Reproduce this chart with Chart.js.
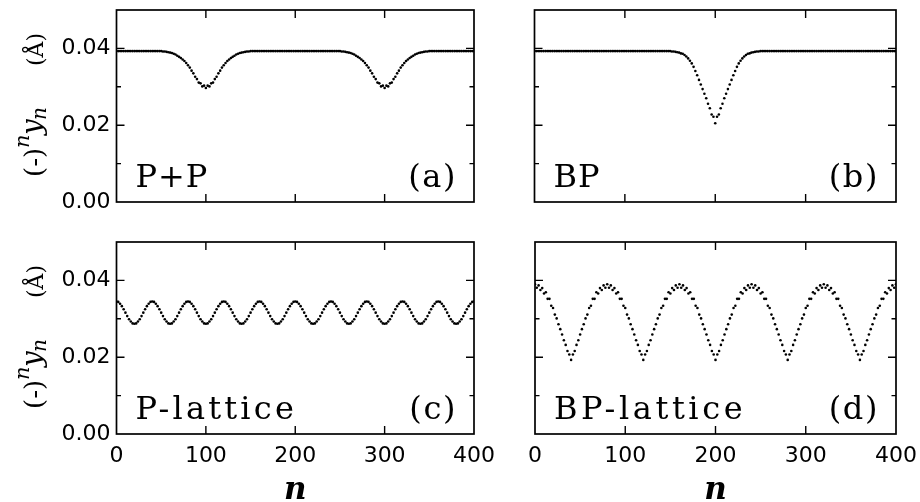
<!DOCTYPE html>
<html>
<head>
<meta charset="utf-8">
<script src="https://cdn.jsdelivr.net/npm/chart.js@4.4.0/dist/chart.umd.min.js"></script>
<style>
  html, body { margin: 0; padding: 0; background: #fff; }
  #wrap { position: relative; width: 920px; height: 502px; }
  #wrap canvas { position: absolute; left: 0; top: 0; }
</style>
</head>
<body>
<div id="wrap">
  <canvas id="pa" width="920" height="502"></canvas>
  <canvas id="pb" width="920" height="502"></canvas>
  <canvas id="pc" width="920" height="502"></canvas>
  <canvas id="pd" width="920" height="502"></canvas>
</div>
<script>
// site index n, sampled every 4 for each of the two sublattices
const nA = [0,4,8,12,16,20,24,28,32,36,40,44,48,52,56,60,64,68,72,76,80,84,88,92,96,100,104,108,112,116,120,124,128,132,136,140,144,148,152,156,160,164,168,172,176,180,184,188,192,196,200,204,208,212,216,220,224,228,232,236,240,244,248,252,256,260,264,268,272,276,280,284,288,292,296,300,304,308,312,316,320,324,328,332,336,340,344,348,352,356,360,364,368,372,376,380,384,388,392,396,400];
const nB = [2,6,10,14,18,22,26,30,34,38,42,46,50,54,58,62,66,70,74,78,82,86,90,94,98,102,106,110,114,118,122,126,130,134,138,142,146,150,154,158,162,166,170,174,178,182,186,190,194,198,202,206,210,214,218,222,226,230,234,238,242,246,250,254,258,262,266,270,274,278,282,286,290,294,298,302,306,310,314,318,322,326,330,334,338,342,346,350,354,358,362,366,370,374,378,382,386,390,394,398];

// (a) P+P
const aA = [
  0.0393,0.0393,0.0393,0.0393,0.0393,0.0393,0.0393,0.0393,0.0393,0.0393,
  0.0393,0.0393,0.0393,0.0392,0.0391,0.0389,0.0386,0.0381,0.0375,0.0367,
  0.0356,0.0342,0.0326,0.0311,0.0301,0.0297,0.0301,0.0311,0.0326,0.0342,
  0.0356,0.0367,0.0375,0.0381,0.0386,0.0389,0.0391,0.0392,0.0393,0.0393,
  0.0393,0.0393,0.0393,0.0393,0.0393,0.0393,0.0393,0.0393,0.0393,0.0393,
  0.0393,0.0393,0.0393,0.0393,0.0393,0.0393,0.0393,0.0393,0.0393,0.0393,
  0.0393,0.0393,0.0393,0.0392,0.0391,0.0389,0.0386,0.0381,0.0375,0.0367,
  0.0356,0.0342,0.0326,0.0311,0.0301,0.0297,0.0301,0.0311,0.0326,0.0342,
  0.0356,0.0367,0.0375,0.0381,0.0386,0.0389,0.0391,0.0392,0.0393,0.0393,
  0.0393,0.0393,0.0393,0.0393,0.0393,0.0393,0.0393,0.0393,0.0393,0.0393,
  0.0393
];
const aB = [
  0.0393,0.0393,0.0393,0.0393,0.0393,0.0393,0.0393,0.0393,0.0393,0.0393,
  0.0393,0.0393,0.0393,0.0392,0.0390,0.0388,0.0384,0.0378,0.0371,0.0362,
  0.0350,0.0335,0.0320,0.0309,0.0303,0.0303,0.0309,0.0320,0.0335,0.0350,
  0.0362,0.0371,0.0378,0.0384,0.0388,0.0390,0.0392,0.0393,0.0393,0.0393,
  0.0393,0.0393,0.0393,0.0393,0.0393,0.0393,0.0393,0.0393,0.0393,0.0393,
  0.0393,0.0393,0.0393,0.0393,0.0393,0.0393,0.0393,0.0393,0.0393,0.0393,
  0.0393,0.0393,0.0393,0.0392,0.0390,0.0388,0.0384,0.0378,0.0371,0.0362,
  0.0350,0.0335,0.0320,0.0309,0.0303,0.0303,0.0309,0.0320,0.0335,0.0350,
  0.0362,0.0371,0.0378,0.0384,0.0388,0.0390,0.0392,0.0393,0.0393,0.0393,
  0.0393,0.0393,0.0393,0.0393,0.0393,0.0393,0.0393,0.0393,0.0393,0.0393
];

// (b) BP
const bA = [
  0.0393,0.0393,0.0393,0.0393,0.0393,0.0393,0.0393,0.0393,0.0393,0.0393,
  0.0393,0.0393,0.0393,0.0393,0.0393,0.0393,0.0393,0.0393,0.0393,0.0393,
  0.0393,0.0393,0.0393,0.0393,0.0393,0.0393,0.0393,0.0393,0.0393,0.0393,
  0.0393,0.0393,0.0393,0.0393,0.0393,0.0393,0.0393,0.0393,0.0392,0.0391,
  0.0389,0.0386,0.0379,0.0368,0.0352,0.0330,0.0306,0.0282,0.0256,0.0228,
  0.0205,0.0228,0.0256,0.0282,0.0306,0.0330,0.0352,0.0368,0.0379,0.0386,
  0.0389,0.0391,0.0392,0.0393,0.0393,0.0393,0.0393,0.0393,0.0393,0.0393,
  0.0393,0.0393,0.0393,0.0393,0.0393,0.0393,0.0393,0.0393,0.0393,0.0393,
  0.0393,0.0393,0.0393,0.0393,0.0393,0.0393,0.0393,0.0393,0.0393,0.0393,
  0.0393,0.0393,0.0393,0.0393,0.0393,0.0393,0.0393,0.0393,0.0393,0.0393,
  0.0393
];
const bB = [
  0.0393,0.0393,0.0393,0.0393,0.0393,0.0393,0.0393,0.0393,0.0393,0.0393,
  0.0393,0.0393,0.0393,0.0393,0.0393,0.0393,0.0393,0.0393,0.0393,0.0393,
  0.0393,0.0393,0.0393,0.0393,0.0393,0.0393,0.0393,0.0393,0.0393,0.0393,
  0.0393,0.0393,0.0393,0.0393,0.0393,0.0393,0.0393,0.0393,0.0392,0.0390,
  0.0387,0.0383,0.0374,0.0361,0.0341,0.0318,0.0294,0.0270,0.0244,0.0222,
  0.0222,0.0244,0.0270,0.0294,0.0318,0.0341,0.0361,0.0374,0.0383,0.0387,
  0.0390,0.0392,0.0393,0.0393,0.0393,0.0393,0.0393,0.0393,0.0393,0.0393,
  0.0393,0.0393,0.0393,0.0393,0.0393,0.0393,0.0393,0.0393,0.0393,0.0393,
  0.0393,0.0393,0.0393,0.0393,0.0393,0.0393,0.0393,0.0393,0.0393,0.0393,
  0.0393,0.0393,0.0393,0.0393,0.0393,0.0393,0.0393,0.0393,0.0393,0.0393
];

// (c) P-lattice
const cA = [
  0.0345,0.0339,0.0325,0.0307,0.0293,0.0287,0.0293,0.0307,0.0325,0.0339,
  0.0345,0.0339,0.0325,0.0307,0.0293,0.0287,0.0293,0.0307,0.0325,0.0339,
  0.0345,0.0339,0.0325,0.0307,0.0293,0.0287,0.0293,0.0307,0.0325,0.0339,
  0.0345,0.0339,0.0325,0.0307,0.0293,0.0287,0.0293,0.0307,0.0325,0.0339,
  0.0345,0.0339,0.0325,0.0307,0.0293,0.0287,0.0293,0.0307,0.0325,0.0339,
  0.0345,0.0339,0.0325,0.0307,0.0293,0.0287,0.0293,0.0307,0.0325,0.0339,
  0.0345,0.0339,0.0325,0.0307,0.0293,0.0287,0.0293,0.0307,0.0325,0.0339,
  0.0345,0.0339,0.0325,0.0307,0.0293,0.0287,0.0293,0.0307,0.0325,0.0339,
  0.0345,0.0339,0.0325,0.0307,0.0293,0.0287,0.0293,0.0307,0.0325,0.0339,
  0.0345,0.0339,0.0325,0.0307,0.0293,0.0287,0.0293,0.0307,0.0325,0.0339,
  0.0345
];
const cB = [
  0.0344,0.0333,0.0316,0.0299,0.0288,0.0288,0.0299,0.0316,0.0333,0.0344,
  0.0344,0.0333,0.0316,0.0299,0.0288,0.0288,0.0299,0.0316,0.0333,0.0344,
  0.0344,0.0333,0.0316,0.0299,0.0288,0.0288,0.0299,0.0316,0.0333,0.0344,
  0.0344,0.0333,0.0316,0.0299,0.0288,0.0288,0.0299,0.0316,0.0333,0.0344,
  0.0344,0.0333,0.0316,0.0299,0.0288,0.0288,0.0299,0.0316,0.0333,0.0344,
  0.0344,0.0333,0.0316,0.0299,0.0288,0.0288,0.0299,0.0316,0.0333,0.0344,
  0.0344,0.0333,0.0316,0.0299,0.0288,0.0288,0.0299,0.0316,0.0333,0.0344,
  0.0344,0.0333,0.0316,0.0299,0.0288,0.0288,0.0299,0.0316,0.0333,0.0344,
  0.0344,0.0333,0.0316,0.0299,0.0288,0.0288,0.0299,0.0316,0.0333,0.0344,
  0.0344,0.0333,0.0316,0.0299,0.0288,0.0288,0.0299,0.0316,0.0333,0.0344
];

// (d) BP-lattice
const dA = [
  0.0390,0.0387,0.0380,0.0369,0.0352,0.0328,0.0301,0.0273,0.0244,0.0216,
  0.0193,0.0216,0.0244,0.0273,0.0301,0.0328,0.0352,0.0369,0.0380,0.0387,
  0.0390,0.0387,0.0380,0.0369,0.0352,0.0328,0.0301,0.0273,0.0244,0.0216,
  0.0193,0.0216,0.0244,0.0273,0.0301,0.0328,0.0352,0.0369,0.0380,0.0387,
  0.0390,0.0387,0.0380,0.0369,0.0352,0.0328,0.0301,0.0273,0.0244,0.0216,
  0.0193,0.0216,0.0244,0.0273,0.0301,0.0328,0.0352,0.0369,0.0380,0.0387,
  0.0390,0.0387,0.0380,0.0369,0.0352,0.0328,0.0301,0.0273,0.0244,0.0216,
  0.0193,0.0216,0.0244,0.0273,0.0301,0.0328,0.0352,0.0369,0.0380,0.0387,
  0.0390,0.0387,0.0380,0.0369,0.0352,0.0328,0.0301,0.0273,0.0244,0.0216,
  0.0193,0.0216,0.0244,0.0273,0.0301,0.0328,0.0352,0.0369,0.0380,0.0387,
  0.0390
];
const dB = [
  0.0381,0.0375,0.0366,0.0352,0.0334,0.0311,0.0286,0.0259,0.0232,0.0207,
  0.0207,0.0232,0.0259,0.0286,0.0311,0.0334,0.0352,0.0366,0.0375,0.0381,
  0.0381,0.0375,0.0366,0.0352,0.0334,0.0311,0.0286,0.0259,0.0232,0.0207,
  0.0207,0.0232,0.0259,0.0286,0.0311,0.0334,0.0352,0.0366,0.0375,0.0381,
  0.0381,0.0375,0.0366,0.0352,0.0334,0.0311,0.0286,0.0259,0.0232,0.0207,
  0.0207,0.0232,0.0259,0.0286,0.0311,0.0334,0.0352,0.0366,0.0375,0.0381,
  0.0381,0.0375,0.0366,0.0352,0.0334,0.0311,0.0286,0.0259,0.0232,0.0207,
  0.0207,0.0232,0.0259,0.0286,0.0311,0.0334,0.0352,0.0366,0.0375,0.0381,
  0.0381,0.0375,0.0366,0.0352,0.0334,0.0311,0.0286,0.0259,0.0232,0.0207,
  0.0207,0.0232,0.0259,0.0286,0.0311,0.0334,0.0352,0.0366,0.0375,0.0381
];

// axes
const xInnerTicks = [100, 200, 300];
const yInnerTicks = [0.01, 0.02, 0.03, 0.04];
const yLabelTicks = [0, 0.02, 0.04];

const W = 920, H = 502;

// frame, inward ticks, panel names, axis titles
const panelDecor = {
  id: 'panelDecor',
  afterDatasetsDraw(chart, args, o) {
    const { ctx, chartArea: ca } = chart;
    const xs = chart.scales.x, ys = chart.scales.y;
    ctx.save();
    ctx.strokeStyle = '#000';
    ctx.lineWidth = 1.4;
    ctx.beginPath();
    xInnerTicks.forEach(v => {
      const px = xs.getPixelForValue(v);
      ctx.moveTo(px, ca.bottom); ctx.lineTo(px, ca.bottom - 8);
      ctx.moveTo(px, ca.top); ctx.lineTo(px, ca.top + 8);
    });
    yInnerTicks.forEach(v => {
      const py = ys.getPixelForValue(v);
      const major = yLabelTicks.some(t => Math.abs(t - v) < 1e-6);
      const len = major ? 8 : 4.5;
      ctx.moveTo(ca.left, py); ctx.lineTo(ca.left + len, py);
      ctx.moveTo(ca.right, py); ctx.lineTo(ca.right - len, py);
    });
    ctx.stroke();
    ctx.lineWidth = 1.7;
    ctx.strokeRect(ca.left, ca.top, ca.right - ca.left, ca.bottom - ca.top);

    ctx.fillStyle = '#000';
    ctx.font = '32px "DejaVu Serif"';
    ctx.textBaseline = 'alphabetic';
    ctx.textAlign = 'left';
    ctx.letterSpacing = o.nameGap + 'px';
    ctx.fillText(o.name, ca.left + 19, ca.bottom - 15);
    ctx.textAlign = 'right';
    ctx.letterSpacing = '1.6px';
    ctx.fillText(o.tag, ca.right - 17, ca.bottom - 15);
    ctx.letterSpacing = '0px';

    if (o.yTitle) {
      ctx.save();
      ctx.translate(43, ca.top + 167);
      ctx.rotate(-Math.PI / 2);
      ctx.textAlign = 'left';
      ctx.font = '26px "DejaVu Serif"';
      ctx.fillText('(-)', 0, 0);
      ctx.font = 'italic 21px "DejaVu Serif"';
      ctx.fillText('n', 29, -14);
      ctx.font = 'italic 28px "DejaVu Serif"';
      ctx.fillText('y', 42, -2);
      ctx.font = 'italic 20px "DejaVu Serif"';
      ctx.fillText('n', 57, 3);
      ctx.font = '22px "DejaVu Serif"';
      ctx.fillText('(Å)', 111, 0);
      ctx.restore();
    }
    if (o.xTitle) {
      ctx.font = 'italic bold 31px "DejaVu Serif"';
      ctx.textAlign = 'center';
      ctx.fillText('n', (ca.left + ca.right) / 2, 499);
    }
    ctx.restore();
  }
};

function makePanel(id, box, name, nameGap, tag, even, odd, showY, showX) {
  const [left, top, right, bottom] = box;
  const xAxisH = 40;
  return new Chart(document.getElementById(id), {
    type: 'scatter',
    data: {
      datasets: [
        { data: nA.map((n, i) => ({ x: n, y: even[i] })) },
        { data: nB.map((n, i) => ({ x: n, y: odd[i] })) }
      ]
    },
    options: {
      responsive: false,
      devicePixelRatio: 1,
      animation: false,
      events: [],
      layout: {
        autoPadding: false,
        padding: {
          left: showY ? 0 : left,
          top: top,
          right: W - right,
          bottom: showX ? H - bottom - xAxisH : H - bottom
        }
      },
      elements: {
        point: { radius: 1.3, borderWidth: 0, backgroundColor: '#000', pointStyle: 'circle' }
      },
      plugins: {
        legend: { display: false },
        tooltip: { enabled: false },
        panelDecor: { name, nameGap, tag, yTitle: showY, xTitle: showX }
      },
      scales: {
        x: {
          type: 'linear',
          min: 0, max: 400,
          display: showX,
          grid: { display: false, drawTicks: false },
          border: { display: false },
          ticks: {
            stepSize: 100, autoSkip: false, padding: 9, color: '#000',
            font: { family: 'DejaVu Sans', size: 22 }
          },
          afterFit(s) {
            if (!showX) return;
            s.height = xAxisH; s.paddingLeft = 0; s.paddingRight = 0;
          }
        },
        y: {
          type: 'linear',
          min: 0, max: 0.05,
          display: showY,
          grid: { display: false, drawTicks: false },
          border: { display: false },
          ticks: {
            stepSize: 0.01, autoSkip: false, padding: 6, color: '#000',
            font: { family: 'DejaVu Sans', size: 22 },
            callback: v => yLabelTicks.some(t => Math.abs(t - v) < 1e-6) ? v.toFixed(2) : ''
          },
          afterFit(s) {
            if (!showY) return;
            s.width = left; s.paddingTop = 0; s.paddingBottom = 0;
          }
        }
      }
    },
    plugins: [panelDecor]
  });
}

makePanel('pa', [116.5, 10, 474, 202], 'P+P', 1, '(a)', aA, aB, true, false);
makePanel('pb', [534.5, 10, 896, 202], 'BP', 1, '(b)', bA, bB, false, false);
makePanel('pc', [116.5, 242, 474, 434], 'P-lattice', 3.2, '(c)', cA, cB, true, true);
makePanel('pd', [535, 242, 896, 434], 'BP-lattice', 3.6, '(d)', dA, dB, false, true);
</script>
</body>
</html>
